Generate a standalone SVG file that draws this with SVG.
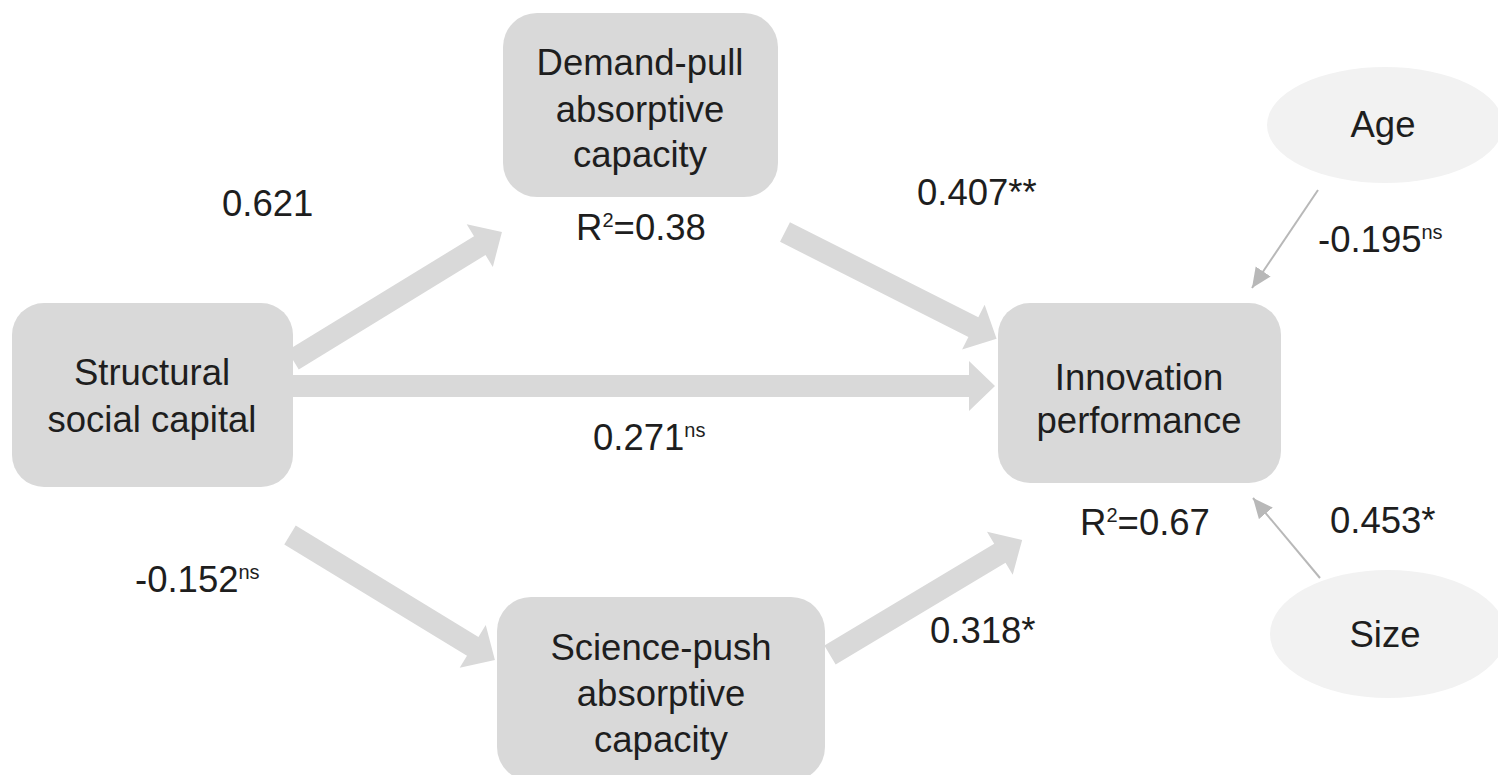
<svg xmlns="http://www.w3.org/2000/svg" width="1498" height="775" viewBox="0 0 1498 775">
  <defs>
    <style>
      .box { fill: #d9d9d9; }
      .ell { fill: #f2f2f2; }
      .thick { fill: #d9d9d9; }
      .thin { stroke: #b8b8b8; stroke-width: 2; fill: none; }
      text { font-family: "Liberation Sans", Arial, sans-serif; font-size: 36.5px; fill: #1e1e1e; }
      .c { text-anchor: middle; }
      .sup { font-size: 20px; }
    </style>
    <marker id="ah" markerUnits="userSpaceOnUse" markerWidth="22" markerHeight="20" refX="20" refY="9" orient="auto">
      <path d="M0,0 L20,9 L0,18 Z" fill="#b8b8b8"/>
    </marker>
  </defs>
  <rect width="1498" height="775" fill="#ffffff"/>

  <g id="connectors">
    <polygon class="thick" transform="translate(293,360) rotate(-31.48)" points="0,-11 219,-11 219,-25 245,0 219,25 219,11 0,11"/>
    <polygon class="thick" transform="translate(293,386)" points="0,-11 676,-11 676,-25 702,0 676,25 676,11 0,11"/>
    <polygon class="thick" transform="translate(785,232) rotate(26.78)" points="0,-11 211,-11 211,-25 237,0 211,25 211,11 0,11"/>
    <polygon class="thick" transform="translate(290,535) rotate(31.37)" points="0,-11 214,-11 214,-25 240,0 214,25 214,11 0,11"/>
    <polygon class="thick" transform="translate(830,655) rotate(-30.92)" points="0,-11 198,-11 198,-25 224,0 198,25 198,11 0,11"/>
    <line class="thin" x1="1318" y1="190" x2="1252" y2="288" marker-end="url(#ah)"/>
    <line class="thin" x1="1320" y1="578" x2="1253" y2="498" marker-end="url(#ah)"/>
  </g>

  <g id="node-structural">
    <rect class="box" x="12" y="303" width="281" height="184" rx="32"/>
    <text class="c" x="152" y="385">Structural</text>
    <text class="c" x="152" y="432">social capital</text>
  </g>

  <g id="node-demand">
    <rect class="box" x="503" y="13" width="275" height="184" rx="34"/>
    <text class="c" x="640" y="75">Demand-pull</text>
    <text class="c" x="640" y="122">absorptive</text>
    <text class="c" x="640" y="167">capacity</text>
  </g>

  <g id="node-science">
    <rect class="box" x="497" y="597" width="328" height="184" rx="34"/>
    <text class="c" x="661" y="660">Science-push</text>
    <text class="c" x="661" y="706">absorptive</text>
    <text class="c" x="661" y="752">capacity</text>
  </g>

  <g id="node-innovation">
    <rect class="box" x="998" y="303" width="283" height="180" rx="32"/>
    <text class="c" x="1139" y="390">Innovation</text>
    <text class="c" x="1139" y="433">performance</text>
  </g>

  <g id="node-age">
    <ellipse class="ell" cx="1385" cy="125" rx="118" ry="58"/>
    <text class="c" x="1383" y="137">Age</text>
  </g>

  <g id="node-size">
    <ellipse class="ell" cx="1388" cy="634" rx="118" ry="64"/>
    <text class="c" x="1385" y="647">Size</text>
  </g>

  <g id="labels">
    <text x="222" y="216">0.621</text>
    <text x="917" y="205">0.407**</text>
    <text x="1318" y="252">-0.195<tspan class="sup" dy="-13">ns</tspan></text>
    <text x="593" y="450">0.271<tspan class="sup" dy="-13">ns</tspan></text>
    <text x="135" y="592">-0.152<tspan class="sup" dy="-13">ns</tspan></text>
    <text x="930" y="643">0.318*</text>
    <text x="1330" y="533">0.453*</text>
    <text class="c" x="641" y="240">R<tspan class="sup" dy="-13">2</tspan><tspan dy="13">=0.38</tspan></text>
    <text class="c" x="1145" y="535">R<tspan class="sup" dy="-13">2</tspan><tspan dy="13">=0.67</tspan></text>
  </g>
</svg>
